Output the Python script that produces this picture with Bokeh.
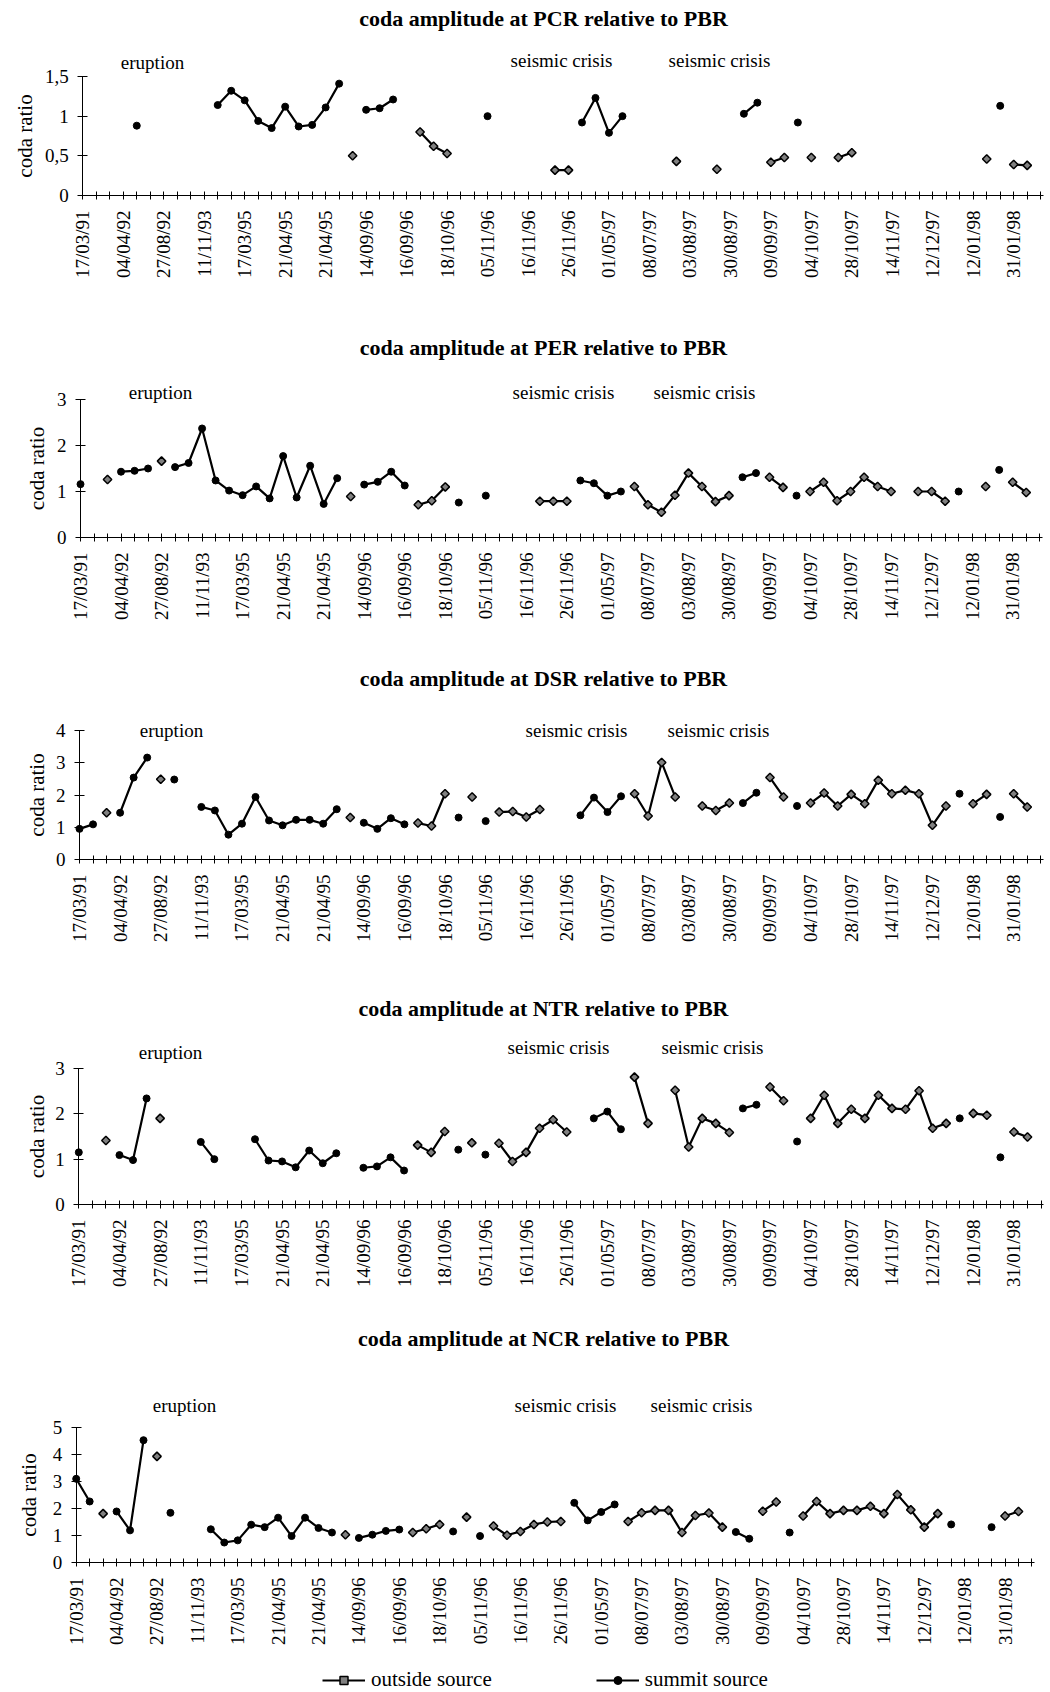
import numpy as np
from bokeh.plotting import figure
from bokeh.models import Range1d, FixedTicker, Label, Legend, LegendItem, LinearAxis
from bokeh.layouts import column
from bokeh.embed import file_html
from bokeh.resources import INLINE

N = None

# ---------------- data (category index 0..71, None = no value) ----------------
tick_labels = ["17/03/91", "04/04/92", "27/08/92", "11/11/93", "17/03/95", "21/04/95",
               "21/04/95", "14/09/96", "16/09/96", "18/10/96", "05/11/96", "16/11/96",
               "26/11/96", "01/05/97", "08/07/97", "03/08/97", "30/08/97", "09/09/97",
               "04/10/97", "28/10/97", "14/11/97", "12/12/97", "12/01/98", "31/01/98"]
n_categories = 72

pcr_summit = [
    N, N, N, N, 0.88, N, N, N, N, N,
    1.14, 1.32, 1.20, 0.94, 0.85, 1.12, 0.87, 0.89, 1.11, 1.41,
    N, 1.08, 1.10, 1.21, N, N, N, N, N, N,
    1.00, N, N, N, N, N, N, 0.92, 1.23, 0.79,
    1.00, N, N, N, N, N, N, N, N, 1.03,
    1.17, N, N, 0.92, N, N, N, N, N, N,
    N, N, N, N, N, N, N, N, 1.13, N,
    N, N]
pcr_outside = [
    N, N, N, N, N, N, N, N, N, N,
    N, N, N, N, N, N, N, N, N, N,
    0.50, N, N, N, N, 0.80, 0.62, 0.53, N, N,
    N, N, N, N, N, 0.32, 0.32, N, N, N,
    N, N, N, N, 0.43, N, N, 0.33, N, N,
    N, 0.42, 0.48, N, 0.48, N, 0.48, 0.54, N, N,
    N, N, N, N, N, N, N, 0.46, N, 0.39,
    0.38, N]

per_summit = [
    1.16, N, N, 1.43, 1.45, 1.50, N, 1.53, 1.62, 2.37,
    1.24, 1.02, 0.92, 1.11, 0.85, 1.77, 0.87, 1.56, 0.73, 1.29,
    N, 1.15, 1.21, 1.43, 1.13, N, N, N, 0.76, N,
    0.91, N, N, N, N, N, N, 1.24, 1.18, 0.91,
    1.00, N, N, N, N, N, N, N, N, 1.31,
    1.40, N, N, 0.91, N, N, N, N, N, N,
    N, N, N, N, N, 1.00, N, N, 1.47, N,
    N, N]
per_outside = [
    N, N, 1.26, N, N, N, 1.66, N, N, N,
    N, N, N, N, N, N, N, N, N, N,
    0.89, N, N, N, N, 0.71, 0.80, 1.10, N, N,
    N, N, N, N, 0.79, 0.79, 0.79, N, N, N,
    N, 1.11, 0.71, 0.55, 0.92, 1.40, 1.11, 0.78, 0.91, N,
    N, 1.31, 1.09, N, 1.00, 1.20, 0.80, 1.00, 1.31, 1.11,
    1.00, N, 1.00, 1.00, 0.79, N, N, 1.11, N, 1.20,
    0.98, N]

dsr_summit = [
    0.95, 1.09, N, 1.45, 2.54, 3.16, N, 2.48, N, 1.63,
    1.52, 0.77, 1.11, 1.94, 1.21, 1.06, 1.23, 1.23, 1.11, 1.56,
    N, 1.14, 0.95, 1.28, 1.09, N, N, N, 1.30, N,
    1.19, N, N, N, N, N, N, 1.37, 1.92, 1.47,
    1.96, N, N, N, N, N, N, N, N, 1.75,
    2.07, N, N, 1.66, N, N, N, N, N, N,
    N, N, N, N, N, 2.04, N, N, 1.32, N,
    N, N]
dsr_outside = [
    N, N, 1.45, N, N, N, 2.49, N, N, N,
    N, N, N, N, N, N, N, N, N, N,
    1.30, N, N, N, N, 1.13, 1.04, 2.04, N, 1.94,
    N, 1.47, 1.49, 1.32, 1.55, N, N, N, N, N,
    N, 2.04, 1.35, 3.01, 1.94, N, 1.66, 1.52, 1.75, N,
    N, 2.54, 1.94, N, 1.75, 2.06, 1.66, 2.02, 1.73, 2.46,
    2.04, 2.15, 2.04, 1.06, 1.66, N, 1.73, 2.02, N, 2.04,
    1.63, N]

ntr_summit = [
    1.15, N, N, 1.09, 0.98, 2.34, N, N, N, 1.38,
    1.00, N, N, 1.44, 0.97, 0.95, 0.82, 1.19, 0.91, 1.13,
    N, 0.81, 0.84, 1.04, 0.75, N, N, N, 1.21, N,
    1.10, N, N, N, N, N, N, N, 1.90, 2.05,
    1.66, N, N, N, N, N, N, N, N, 2.12,
    2.20, N, N, 1.39, N, N, N, N, N, N,
    N, N, N, N, N, 1.90, N, N, 1.04, N,
    N, N]
ntr_outside = [
    N, N, 1.41, N, N, N, 1.90, N, N, N,
    N, N, N, N, N, N, N, N, N, N,
    N, N, N, N, N, 1.31, 1.15, 1.61, N, 1.36,
    N, 1.35, 0.95, 1.15, 1.68, 1.87, 1.60, N, N, N,
    N, 2.81, 1.79, N, 2.52, 1.27, 1.90, 1.79, 1.59, N,
    N, 2.59, 2.29, N, 1.90, 2.41, 1.79, 2.10, 1.90, 2.41,
    2.12, 2.10, 2.51, 1.68, 1.79, N, 2.01, 1.97, N, 1.60,
    1.49, N]

ncr_summit = [
    3.10, 2.26, N, 1.89, 1.19, 4.53, N, 1.84, N, N,
    1.23, 0.74, 0.82, 1.40, 1.31, 1.66, 0.98, 1.66, 1.28, 1.11,
    N, 0.91, 1.03, 1.17, 1.22, N, N, N, 1.15, N,
    0.98, N, N, N, N, N, N, 2.21, 1.56, 1.87,
    2.15, N, N, N, N, N, N, N, N, 1.13,
    0.88, N, N, 1.11, N, N, N, N, N, N,
    N, N, N, N, N, 1.41, N, N, 1.31, N,
    N, N]
ncr_outside = [
    N, N, 1.81, N, N, N, 3.93, N, N, N,
    N, N, N, N, N, N, N, N, N, N,
    1.03, N, N, N, N, 1.11, 1.25, 1.41, N, 1.68,
    N, 1.35, 1.01, 1.15, 1.41, 1.50, 1.52, N, N, N,
    N, 1.52, 1.84, 1.93, 1.93, 1.11, 1.74, 1.83, 1.31, N,
    N, 1.90, 2.24, N, 1.72, 2.26, 1.81, 1.93, 1.93, 2.08,
    1.81, 2.52, 1.95, 1.31, 1.81, N, N, N, N, 1.72,
    1.89, N]

# ---------------- layout / style ----------------
FONT = "Liberation Serif"
PAGE_W = 1050
PAGE_X0 = 0      # the page is drawn without a body margin
X_END = 71.2
TITLE_X = 543

panels = [
    dict(title="coda amplitude at PCR relative to PBR", outside=pcr_outside, summit=pcr_summit,
         yticks=[0, 0.5, 1, 1.5], band=(0, 330), axis_x=82.3, x70=1026.7, top=76, bottom=195,
         title_y=17.5, ylab_x=24,
         notes=[("eruption", 152, 62), ("seismic crisis", 561, 60), ("seismic crisis", 719, 60)]),
    dict(title="coda amplitude at PER relative to PBR", outside=per_outside, summit=per_summit,
         yticks=[0, 1, 2, 3], band=(330, 660), axis_x=80.0, x70=1025.7, top=399, bottom=537,
         title_y=347, ylab_x=36,
         notes=[("eruption", 160, 392), ("seismic crisis", 563, 392), ("seismic crisis", 704, 392)]),
    dict(title="coda amplitude at DSR relative to PBR", outside=dsr_outside, summit=dsr_summit,
         yticks=[0, 1, 2, 3, 4], band=(660, 990), axis_x=79.0, x70=1026.7, top=730, bottom=859,
         title_y=678, ylab_x=36,
         notes=[("eruption", 171, 730), ("seismic crisis", 576, 730), ("seismic crisis", 718, 730)]),
    dict(title="coda amplitude at NTR relative to PBR", outside=ntr_outside, summit=ntr_summit,
         yticks=[0, 1, 2, 3], band=(990, 1320), axis_x=78.3, x70=1027.0, top=1068, bottom=1204,
         title_y=1008, ylab_x=36,
         notes=[("eruption", 170, 1052), ("seismic crisis", 558, 1047), ("seismic crisis", 712, 1047)]),
    dict(title="coda amplitude at NCR relative to PBR", outside=ncr_outside, summit=ncr_summit,
         yticks=[0, 1, 2, 3, 4, 5], band=(1320, 1692), axis_x=75.7, x70=1018.0, top=1427, bottom=1562,
         title_y=1338, ylab_x=28,
         notes=[("eruption", 184, 1405), ("seismic crisis", 565, 1405), ("seismic crisis", 701, 1405)]),
]


def fmt_tick(t):
    return ("%g" % t).replace(".", ",")


x = np.arange(n_categories)
figs = []
for k, cfg in enumerate(panels):
    ppc = (cfg["x70"] - cfg["axis_x"]) / 70.0
    top, bottom = cfg["top"], cfg["bottom"]
    ymax = cfg["yticks"][-1]
    b0, b1 = cfg["band"]
    H = b1 - b0
    ax0 = cfg["axis_x"]

    def dx(px):
        return (px - ax0) / ppc

    def dy(py):
        return (bottom - py) / (bottom - top) * ymax

    p = figure(width=PAGE_W, height=H,
               x_range=Range1d(dx(PAGE_X0), dx(PAGE_X0 + PAGE_W)), y_range=Range1d(dy(b1), dy(b0)),
               min_border=0, x_axis_location=None, y_axis_location=None,
               output_backend="svg", toolbar_location=None)
    p.outline_line_color = None
    for g in p.grid:
        g.visible = False
    p.background_fill_color = "white"
    p.border_fill_color = "white"

    # x axis, drawn on the value 0 line
    xa = LinearAxis(fixed_location=0, bounds=(0, X_END),
                    ticker=FixedTicker(ticks=list(range(n_categories)), minor_ticks=[]))
    xa.major_label_overrides = {i: (tick_labels[i // 3] if i % 3 == 0 else "") for i in range(n_categories)}
    xa.major_label_orientation = np.pi / 2
    xa.major_label_text_font = FONT
    xa.major_label_text_font_size = "19px"
    xa.major_label_text_color = "black"
    xa.major_label_standoff = 11
    xa.major_tick_in = 4
    xa.major_tick_out = 4
    xa.major_tick_line_color = "black"
    xa.minor_tick_line_color = None
    xa.axis_line_color = "black"
    xa.axis_line_width = 1
    p.add_layout(xa, "below")

    # y axis, drawn on the first category
    ya = LinearAxis(fixed_location=0, bounds=(0, ymax),
                    ticker=FixedTicker(ticks=cfg["yticks"], minor_ticks=[]))
    ya.major_label_overrides = {t: fmt_tick(t) for t in cfg["yticks"]}
    ya.major_label_text_font = FONT
    ya.major_label_text_font_size = "19px"
    ya.major_label_text_color = "black"
    ya.major_label_standoff = 9
    ya.major_tick_in = 5
    ya.major_tick_out = 5
    ya.major_tick_line_color = "black"
    ya.minor_tick_line_color = None
    ya.axis_line_color = "black"
    ya.axis_line_width = 1
    p.add_layout(ya, "left")

    out = np.array(cfg["outside"], dtype=float)
    summ = np.array(cfg["summit"], dtype=float)
    l_out = p.line(x, out, line_color="black", line_width=2.2)
    s_out = p.scatter(x, out, marker="square", angle=np.pi / 4, size=6,
                      fill_color="#808080", line_color="black", line_width=1.5)
    l_sum = p.line(x, summ, line_color="black", line_width=2.2)
    s_sum = p.scatter(x, summ, marker="circle", size=7, fill_color="black", line_color="black")

    p.add_layout(Label(x=dx(TITLE_X), y=dy(cfg["title_y"]), text=cfg["title"],
                       text_font=FONT, text_font_size="22px", text_font_style="bold",
                       text_align="center", text_baseline="middle", text_color="black"))
    p.add_layout(Label(x=dx(cfg["ylab_x"]), y=dy((top + bottom) / 2), text="coda ratio",
                       angle=np.pi / 2, text_font=FONT, text_font_size="21px",
                       text_align="center", text_baseline="middle", text_color="black"))
    for txt, px, py in cfg["notes"]:
        p.add_layout(Label(x=dx(px), y=dy(py), text=txt, text_font=FONT,
                           text_font_size="19px", text_align="center",
                           text_baseline="middle", text_color="black"))

    if k == len(panels) - 1:
        legend = Legend(items=[LegendItem(label="outside source", renderers=[l_out, s_out]),
                               LegendItem(label="summit source", renderers=[l_sum, s_sum])],
                        orientation="horizontal",
                        location=(322 - PAGE_X0, 0),
                        glyph_width=43, glyph_height=20, label_standoff=6, spacing=104,
                        label_text_font=FONT, label_text_font_size="21px", label_text_color="black",
                        padding=0, margin=0, border_line_color=None, background_fill_alpha=0)
        p.add_layout(legend)
    figs.append(p)

layout = column(*figs, spacing=0)
open("out.html", "w").write(file_html(layout, INLINE))
